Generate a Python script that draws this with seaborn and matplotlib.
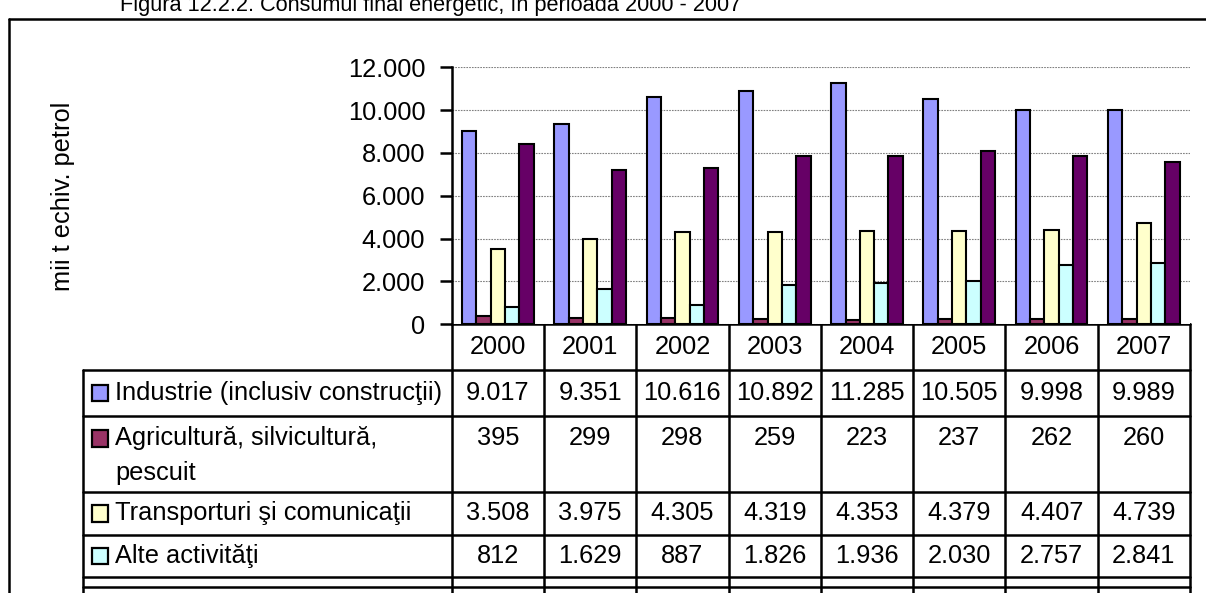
import pandas as pd
import matplotlib.pyplot as plt
import seaborn as sns
from matplotlib.patches import Rectangle

# ---------------------------------------------------------------------------
# date (mii t echiv. petrol)
# ---------------------------------------------------------------------------
ani = ["2000", "2001", "2002", "2003", "2004", "2005", "2006", "2007"]
serii = [
    "Industrie (inclusiv construcţii)",
    "Agricultură, silvicultură, pescuit",
    "Transporturi şi comunicaţii",
    "Alte activităţi",
    "Populaţie",
]
etichete_tabel = [
    "Industrie (inclusiv construcţii)",
    "Agricultură, silvicultură,\npescuit",
    "Transporturi şi comunicaţii",
    "Alte activităţi",
]
industrie = [9017, 9351, 10616, 10892, 11285, 10505, 9998, 9989]
agricultura = [395, 299, 298, 259, 223, 237, 262, 260]
transport = [3508, 3975, 4305, 4319, 4353, 4379, 4407, 4739]
alte = [812, 1629, 887, 1826, 1936, 2030, 2757, 2841]
populatie = [8440, 7200, 7300, 7870, 7870, 8070, 7870, 7570]
y_ticks = [0, 2000, 4000, 6000, 8000, 10000, 12000]

culori = ["#9999FF", "#993366", "#FFFFCC", "#CCFFFF", "#660066"]

valori = [industrie, agricultura, transport, alte, populatie]
df = pd.DataFrame(
    [(a, s, v[i]) for s, v in zip(serii, valori) for i, a in enumerate(ani)],
    columns=["An", "Serie", "Valoare"],
)


def fmt(v):
    return f"{v:,}".replace(",", ".")


# ---------------------------------------------------------------------------
# stil
# ---------------------------------------------------------------------------
sns.set_theme(style="white")
plt.rcParams["font.family"] = ["Liberation Sans", "DejaVu Sans"]
plt.rcParams["text.color"] = "black"
plt.rcParams["ytick.color"] = "black"
plt.rcParams["ytick.labelcolor"] = "black"
FS = 18.3

W, H = 1206, 593
AX_L, AX_R, AX_T, AX_B = 451.7, 1190.0, 67.3, 324.3
ROWS = [324.3, 370.0, 415.7, 491.7, 535.0, 577.3, 587.3]
TAB_L = 83.3

fig = plt.figure(figsize=(W / 100, H / 100), dpi=100)
ax = fig.add_axes([AX_L / W, (H - AX_B) / H, (AX_R - AX_L) / W, (AX_B - AX_T) / H])

sns.barplot(data=df, x="An", y="Valoare", hue="Serie", hue_order=serii,
            palette=culori, width=0.776, edgecolor="black", linewidth=1.5,
            saturation=1, legend=False, ax=ax)

ax.set_xlim(-0.5, len(ani) - 0.5)
ax.set_ylim(0, 12000)
ax.set_yticks(y_ticks)
ax.set_yticklabels([fmt(t) for t in y_ticks], fontsize=FS, color="black")
ax.set_xticks([])
ax.set_xlabel("")
ax.set_ylabel("")
ax.yaxis.grid(True, color="#808080", linestyle=(0, (1.5, 1)), linewidth=0.8)
ax.set_axisbelow(True)
for s in ["top", "right", "bottom"]:
    ax.spines[s].set_visible(False)
ax.spines["left"].set_color("black")
ax.spines["left"].set_linewidth(1.8)
ax.tick_params(axis="y", left=True, length=9, width=1.8, color="black", pad=10)

# ---------------------------------------------------------------------------
# tabel de date + chenar, in coordonate pixel
# ---------------------------------------------------------------------------
ov = fig.add_axes([0, 0, 1, 1], zorder=-1)
ov.set_xlim(0, W)
ov.set_ylim(H, 0)
ov.axis("off")

lw = 1.8
# chenar exterior
ov.plot([9, 9], [19, H], color="black", lw=1.8)
ov.plot([9, W], [19, 19], color="black", lw=1.8)

col_w = (AX_R - AX_L) / len(ani)
cols = [AX_L + i * col_w for i in range(len(ani) + 1)]
for x in cols:
    ov.plot([x, x], [ROWS[0], H], color="black", lw=lw)
ov.plot([TAB_L, TAB_L], [ROWS[1], H], color="black", lw=lw)
ov.plot([AX_L, AX_R], [ROWS[0], ROWS[0]], color="black", lw=lw)
for y in ROWS[1:]:
    ov.plot([TAB_L, AX_R], [y, y], color="black", lw=lw)

for i, a in enumerate(ani):
    cx = (cols[i] + cols[i + 1]) / 2
    ov.text(cx, (ROWS[0] + ROWS[1]) / 2, a, ha="center", va="center", fontsize=FS)

for r, (lab, v) in enumerate(zip(etichete_tabel, valori[:4])):
    top, bot = ROWS[r + 1], ROWS[r + 2]
    yc = (top + bot) / 2 if "\n" not in lab else top + 22.5
    ov.add_patch(Rectangle((91.7, yc - 8.3), 16.6, 16.6, facecolor=culori[r],
                           edgecolor="black", lw=1.6))
    ov.text(115, yc, lab.split("\n")[0], ha="left", va="center", fontsize=FS)
    if "\n" in lab:
        ov.text(115, yc + 35, lab.split("\n")[1], ha="left", va="center", fontsize=FS)
    for i in range(len(ani)):
        cx = (cols[i] + cols[i + 1]) / 2
        ov.text(cx, yc, fmt(v[i]), ha="center", va="center", fontsize=FS)

# axa Y si titlu (titlul este taiat sus, ca in original)
ov.text(63, 196.5, "mii t echiv. petrol", rotation=90, ha="center", va="center",
        fontsize=FS)
ov.text(120, 11, "Figura 12.2.2. Consumul final energetic, în perioada 2000 - 2007",
        ha="left", va="baseline", fontsize=15.7)

fig.savefig("out.png", dpi=100)
